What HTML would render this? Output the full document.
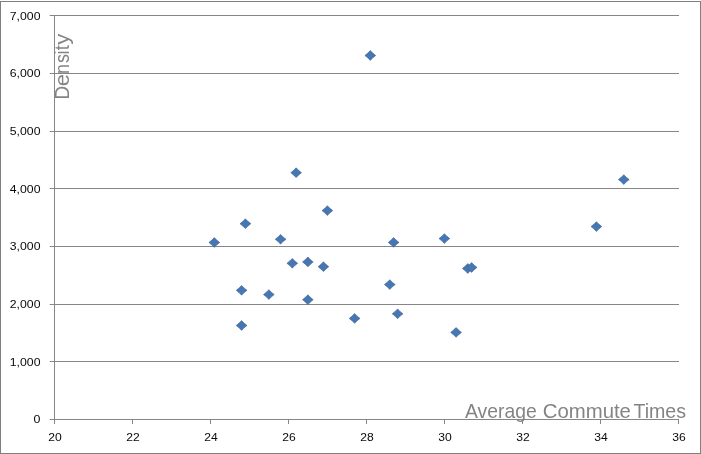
<!DOCTYPE html>
<html><head><meta charset="utf-8"><title>Density vs Average Commute Times</title>
<style>
html,body{margin:0;padding:0;background:#fff;}
body{width:701px;height:454px;overflow:hidden;font-family:"Liberation Sans",sans-serif;}
svg{display:block;}
g.tick,g.ttl,text.ttl{filter:grayscale(1);}
text{font-family:"Liberation Sans",sans-serif;}
.tick{font-size:11.6px;fill:#0a0a0a;}
.ttl{fill:#848484;}
</style></head><body>
<svg width="701" height="454" viewBox="0 0 701 454">
<rect x="0" y="0" width="701" height="454" fill="#ffffff"/>
<g fill="#7f7f7f"><rect x="0" y="1" width="701" height="1"/><rect x="0" y="453" width="701" height="1"/><rect x="0" y="1" width="1" height="453"/><rect x="700" y="1" width="1" height="453"/></g>
<g stroke="#868686" stroke-width="1">
<line x1="49.7" y1="419.5" x2="679" y2="419.5"/>
<line x1="49.7" y1="361.5" x2="679" y2="361.5"/>
<line x1="49.7" y1="304.5" x2="679" y2="304.5"/>
<line x1="49.7" y1="246.5" x2="679" y2="246.5"/>
<line x1="49.7" y1="188.5" x2="679" y2="188.5"/>
<line x1="49.7" y1="131.5" x2="679" y2="131.5"/>
<line x1="49.7" y1="73.5" x2="679" y2="73.5"/>
<line x1="49.7" y1="15.5" x2="679" y2="15.5"/>
<line x1="54.5" y1="15" x2="54.5" y2="424"/>
<line x1="132.5" y1="419.5" x2="132.5" y2="424"/>
<line x1="210.5" y1="419.5" x2="210.5" y2="424"/>
<line x1="288.5" y1="419.5" x2="288.5" y2="424"/>
<line x1="366.5" y1="419.5" x2="366.5" y2="424"/>
<line x1="444.5" y1="419.5" x2="444.5" y2="424"/>
<line x1="522.5" y1="419.5" x2="522.5" y2="424"/>
<line x1="600.5" y1="419.5" x2="600.5" y2="424"/>
<line x1="678.5" y1="419.5" x2="678.5" y2="424"/>
</g>
<g class="tick">
<text x="33.6" y="422.9" textLength="6.9" lengthAdjust="spacingAndGlyphs">0</text>
<text x="9.8" y="365.9" textLength="30.7" lengthAdjust="spacingAndGlyphs">1,000</text>
<text x="9.8" y="307.9" textLength="30.7" lengthAdjust="spacingAndGlyphs">2,000</text>
<text x="9.8" y="249.9" textLength="30.7" lengthAdjust="spacingAndGlyphs">3,000</text>
<text x="9.8" y="192.9" textLength="30.7" lengthAdjust="spacingAndGlyphs">4,000</text>
<text x="9.8" y="134.9" textLength="30.7" lengthAdjust="spacingAndGlyphs">5,000</text>
<text x="9.8" y="76.9" textLength="30.7" lengthAdjust="spacingAndGlyphs">6,000</text>
<text x="9.8" y="19.9" textLength="30.7" lengthAdjust="spacingAndGlyphs">7,000</text>
</g>
<g class="tick">
<text x="48.35" y="441.0" textLength="13.5" lengthAdjust="spacingAndGlyphs">20</text>
<text x="126.35" y="441.0" textLength="13.5" lengthAdjust="spacingAndGlyphs">22</text>
<text x="204.35" y="441.0" textLength="13.5" lengthAdjust="spacingAndGlyphs">24</text>
<text x="282.35" y="441.0" textLength="13.5" lengthAdjust="spacingAndGlyphs">26</text>
<text x="360.35" y="441.0" textLength="13.5" lengthAdjust="spacingAndGlyphs">28</text>
<text x="438.35" y="441.0" textLength="13.5" lengthAdjust="spacingAndGlyphs">30</text>
<text x="516.35" y="441.0" textLength="13.5" lengthAdjust="spacingAndGlyphs">32</text>
<text x="594.35" y="441.0" textLength="13.5" lengthAdjust="spacingAndGlyphs">34</text>
<text x="672.35" y="441.0" textLength="13.5" lengthAdjust="spacingAndGlyphs">36</text>
</g>
<g class="ttl" font-size="20.6" transform="translate(68.6,0) rotate(-90)">
<text x="-99.43" y="0" textLength="13.60" lengthAdjust="spacingAndGlyphs">D</text>
<text x="-86.20" y="0" textLength="12.34" lengthAdjust="spacingAndGlyphs">e</text>
<text x="-73.89" y="0" textLength="10.02" lengthAdjust="spacingAndGlyphs">n</text>
<text x="-63.09" y="0" textLength="9.02" lengthAdjust="spacingAndGlyphs">s</text>
<text x="-54.40" y="0" textLength="4.07" lengthAdjust="spacingAndGlyphs">i</text>
<text x="-50.29" y="0" textLength="5.13" lengthAdjust="spacingAndGlyphs">t</text>
<text x="-44.82" y="0" textLength="11.08" lengthAdjust="spacingAndGlyphs">y</text>
</g>
<text class="ttl" font-size="20.4" x="465.00" y="417.8" textLength="71.70" lengthAdjust="spacingAndGlyphs">Average</text>
<text class="ttl" font-size="20.4" x="542.80" y="417.8" textLength="88.10" lengthAdjust="spacingAndGlyphs">Commute</text>
<text class="ttl" font-size="20.4" x="633.40" y="417.8" textLength="52.60" lengthAdjust="spacingAndGlyphs">Times</text>
<g fill="#4677b5" stroke="#3d5f8e" stroke-width="0.6" stroke-linejoin="miter">
<path d="M214.3 237.6Q216.63 240.39 219.7 242.5Q216.63 244.70 214.3 247.4Q211.87 244.70 208.9 242.5Q211.87 240.39 214.3 237.6Z"/>
<path d="M245.4 218.8Q247.83 221.58 250.8 223.7Q247.83 225.89 245.4 228.6Q243.07 225.89 240.0 223.7Q243.07 221.58 245.4 218.8Z"/>
<path d="M280.6 234.4Q282.93 237.10 286.0 239.3Q282.93 241.41 280.6 244.2Q278.17 241.41 275.2 239.3Q278.17 237.10 280.6 234.4Z"/>
<path d="M296.1 167.8Q298.53 170.56 301.5 172.7Q298.53 174.87 296.1 177.6Q293.77 174.87 290.8 172.7Q293.77 170.56 296.1 167.8Z"/>
<path d="M327.4 205.7Q329.73 208.48 332.8 210.6Q329.73 212.79 327.4 215.5Q324.97 212.79 322.0 210.6Q324.97 208.48 327.4 205.7Z"/>
<path d="M292.3 258.4Q294.63 261.11 297.7 263.3Q294.63 265.42 292.3 268.2Q289.87 265.42 286.9 263.3Q289.87 261.11 292.3 258.4Z"/>
<path d="M307.9 257.0Q310.23 259.78 313.2 261.9Q310.23 264.10 307.9 266.8Q305.47 264.10 302.5 261.9Q305.47 259.78 307.9 257.0Z"/>
<path d="M323.4 261.8Q325.83 264.57 328.8 266.7Q325.83 268.89 323.4 271.6Q321.07 268.89 318.1 266.7Q321.07 264.57 323.4 261.8Z"/>
<path d="M241.6 285.4Q243.93 288.18 247.0 290.3Q243.93 292.49 241.6 295.2Q239.17 292.49 236.2 290.3Q239.17 288.18 241.6 285.4Z"/>
<path d="M268.9 289.7Q271.23 292.45 274.2 294.6Q271.23 296.76 268.9 299.5Q266.47 296.76 263.5 294.6Q266.47 292.45 268.9 289.7Z"/>
<path d="M307.9 294.8Q310.23 297.53 313.2 299.7Q310.23 301.84 307.9 304.6Q305.47 301.84 302.5 299.7Q305.47 297.53 307.9 294.8Z"/>
<path d="M241.6 320.6Q243.93 323.33 247.0 325.5Q243.93 327.64 241.6 330.4Q239.17 327.64 236.2 325.5Q239.17 323.33 241.6 320.6Z"/>
<path d="M354.6 313.5Q357.03 316.23 360.0 318.4Q357.03 320.54 354.6 323.3Q352.27 320.54 349.2 318.4Q352.27 316.23 354.6 313.5Z"/>
<path d="M393.6 237.5Q396.03 240.22 399.0 242.4Q396.03 244.53 393.6 247.3Q391.27 244.53 388.2 242.4Q391.27 240.22 393.6 237.5Z"/>
<path d="M444.4 233.7Q446.73 236.41 449.8 238.6Q446.73 240.72 444.4 243.5Q441.97 240.72 439.0 238.6Q441.97 236.41 444.4 233.7Z"/>
<path d="M467.8 263.6Q470.13 266.31 473.2 268.5Q470.13 270.62 467.8 273.4Q465.37 270.62 462.4 268.5Q465.37 266.31 467.8 263.6Z"/>
<path d="M471.6 262.6Q474.03 265.32 477.0 267.5Q474.03 269.64 471.6 272.4Q469.27 269.64 466.2 267.5Q469.27 265.32 471.6 262.6Z"/>
<path d="M389.8 279.7Q392.13 282.41 395.2 284.6Q392.13 286.72 389.8 289.5Q387.37 286.72 384.4 284.6Q387.37 282.41 389.8 279.7Z"/>
<path d="M397.6 308.9Q399.93 311.61 403.0 313.8Q399.93 315.92 397.6 318.7Q395.17 315.92 392.2 313.8Q395.17 311.61 397.6 308.9Z"/>
<path d="M456.1 327.5Q458.43 330.20 461.5 332.4Q458.43 334.51 456.1 337.3Q453.67 334.51 450.7 332.4Q453.67 330.20 456.1 327.5Z"/>
<path d="M370.3 50.6Q372.63 53.34 375.7 55.5Q372.63 57.65 370.3 60.4Q367.87 57.65 364.9 55.5Q367.87 53.34 370.3 50.6Z"/>
<path d="M623.8 174.7Q626.13 177.48 629.2 179.6Q626.13 181.80 623.8 184.5Q621.37 181.80 618.4 179.6Q621.37 177.48 623.8 174.7Z"/>
<path d="M596.4 221.7Q598.83 224.41 601.8 226.6Q598.83 228.72 596.4 231.5Q594.07 228.72 591.0 226.6Q594.07 224.41 596.4 221.7Z"/>
</g>
</svg></body></html>
